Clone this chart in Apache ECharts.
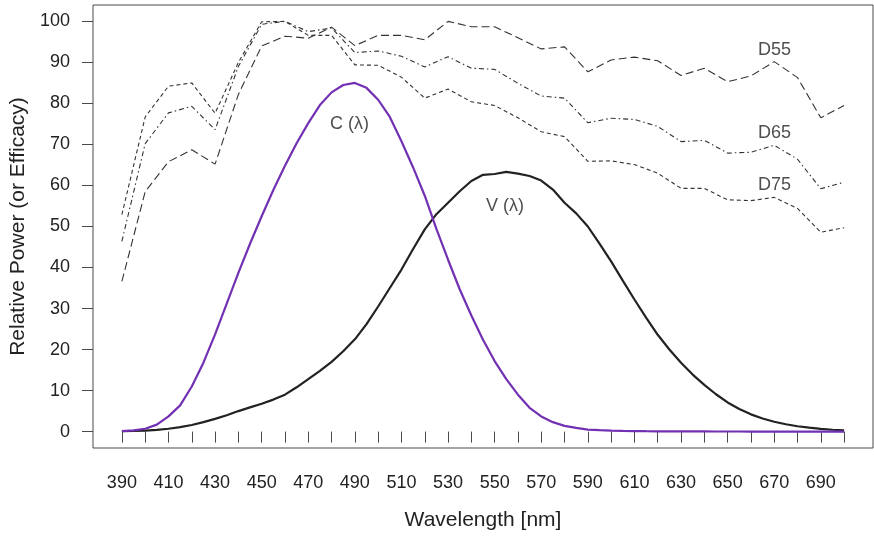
<!DOCTYPE html>
<html>
<head>
<meta charset="utf-8">
<script src="https://cdn.jsdelivr.net/npm/echarts@6/dist/echarts.min.js"></script>
<style>
html,body{margin:0;padding:0;background:#fff;}
#chart{width:874px;height:536px;}
</style>
</head>
<body>
<div id="chart"></div>
<script>
// ---- data ----
const wl10 = [390,400,410,420,430,440,450,460,470,480,490,500,510,520,530,540,550,560,570,580,590,600,610,620,630,640,650,660,670,680,690,700];
const D55 = [36.6,58.5,65.8,68.7,65.2,82.2,94.0,96.4,95.9,98.6,94.1,96.6,96.6,95.5,100.0,98.7,98.7,96.0,93.3,93.8,87.7,90.6,91.3,90.4,86.8,88.6,85.3,86.7,90.2,86.3,76.5,79.5];
const D65 = [46.4,70.2,77.7,79.3,73.6,89.0,99.3,100.0,97.5,98.4,92.4,92.8,91.5,88.9,91.4,88.6,88.3,84.9,81.8,81.3,75.3,76.4,76.1,74.4,70.7,71.0,67.9,68.1,69.8,66.4,59.2,60.8];
const D75 = [52.9,76.7,84.2,85.0,77.6,90.0,99.9,100.0,96.6,96.6,89.4,89.3,86.4,81.3,83.5,80.4,79.5,76.5,73.1,71.9,65.9,66.0,65.1,63.0,59.3,59.3,56.5,56.3,57.1,54.4,48.6,49.7];

const wl5 = [390,395,400,405,410,415,420,425,430,435,440,445,450,455,460,465,470,475,480,485,490,495,500,505,510,515,520,525,530,535,540,545,550,555,560,565,570,575,580,585,590,595,600,605,610,615,620,625,630,635,640,645,650,655,660,665,670,675,680,685,690,695,700];
const Cl = [0.1,0.3,0.7,1.7,3.7,6.4,11.0,16.8,23.7,31.2,38.7,45.8,52.5,58.9,64.8,70.3,75.2,79.6,82.7,84.5,85.0,83.8,80.9,76.7,70.8,64.4,57.5,49.4,41.9,34.7,28.3,22.4,17.2,12.8,9.0,5.8,3.7,2.3,1.4,0.9,0.5,0.35,0.25,0.18,0.12,0.09,0.07,0.05,0.04,0.03,0.03,0.02,0.02,0.02,0.01,0.01,0.01,0.01,0.01,0.01,0,0,0];
const Vl = [0.1,0.15,0.25,0.4,0.7,1.1,1.6,2.3,3.1,4.0,5.0,5.9,6.8,7.8,9.0,10.8,12.8,14.8,17.0,19.6,22.5,26.2,30.5,35.0,39.5,44.5,49.3,53.0,55.8,58.6,61.1,62.6,62.8,63.3,62.9,62.3,61.2,59.0,55.8,53.2,50.0,45.8,41.5,36.8,32.2,27.8,23.6,20.0,16.8,13.9,11.4,9.1,7.1,5.5,4.2,3.2,2.4,1.8,1.3,0.95,0.65,0.45,0.3];

const xTicks = {min:390, max:700, step:10, labelStep:20};
const yTicks = {min:0, max:100, step:10};

const annText = ['C (λ)','V (λ)','D55','D65','D75'];
const annX = [487.7,554.4,670.1,670.1,670.1];
const annY = [75.1,54.9,92.9,72.7,60.0];

// ---- layout ----
const W = 874, H = 536;
const frame = {left:93, right:1, top:5, bottom:88};
const xr = (xTicks.max - xTicks.min) * 0.04, yr = (yTicks.max - yTicks.min) * 0.04;
const xMin = xTicks.min - xr, xMax = xTicks.max + xr;
const yMin = yTicks.min - yr, yMax = yTicks.max + yr;
const pw = W - frame.left - frame.right, ph = H - frame.top - frame.bottom;
const pxX = pw / (xMax - xMin), pxY = ph / (yMax - yMin);
const g2 = {
  left: frame.left + xr * pxX,
  right: frame.right + xr * pxX,
  top: frame.top + yr * pxY,
  bottom: frame.bottom + yr * pxY
};

const FONT = 'Liberation Sans, Arial, Helvetica, sans-serif';
const INK = '#222';
const LINE = '#4a4a4a';

function pairs(xs, ys){ return xs.map((x,i)=>[x, ys[i]]); }

const chart = echarts.init(document.getElementById('chart'), null, {renderer:'canvas'});
chart.setOption({
  animation:false,
  backgroundColor:'#fff',
  textStyle:{fontFamily:FONT},
  grid:[
    Object.assign({show:true, borderColor:LINE, borderWidth:1, backgroundColor:'transparent'}, frame),
    Object.assign({show:false}, g2)
  ],
  xAxis:[
    {gridIndex:0, type:'value', min:xMin, max:xMax, show:false},
    {gridIndex:1, type:'value', min:xTicks.min, max:xTicks.max, interval:xTicks.step,
     position:'bottom', offset: yr*pxY,
     axisLine:{show:false},
     axisTick:{show:true, inside:false, length:11, lineStyle:{color:LINE, width:1}},
     splitLine:{show:false},
     axisLabel:{show:true, margin:26, fontSize:18, color:INK, fontFamily:FONT,
       showMinLabel:true, showMaxLabel:true, hideOverlap:false,
       formatter:v => (Math.round(v - xTicks.min) % xTicks.labelStep === 0 ? String(v) : '')},
     name:'Wavelength [nm]', nameLocation:'middle', nameGap:62,
     nameTextStyle:{fontSize:21, color:INK, fontFamily:FONT}}
  ],
  yAxis:[
    {gridIndex:0, type:'value', min:yMin, max:yMax, show:false},
    {gridIndex:1, type:'value', min:yTicks.min, max:yTicks.max, interval:yTicks.step,
     position:'left', offset: xr*pxX,
     axisLine:{show:false},
     axisTick:{show:true, inside:false, length:11, lineStyle:{color:LINE, width:1}},
     splitLine:{show:false},
     axisLabel:{show:true, margin:23, fontSize:18, color:INK, fontFamily:FONT},
     name:'Relative Power (or Efficacy)', nameLocation:'middle', nameGap:60,
     nameTextStyle:{fontSize:21, color:INK, fontFamily:FONT}}
  ],
  series:[
    {name:'D55', type:'line', xAxisIndex:0, yAxisIndex:0, data:pairs(wl10, D55), showSymbol:false, silent:true,
     lineStyle:{color:'#333', width:1.1, type:[8,4]}},
    {name:'D65', type:'line', xAxisIndex:0, yAxisIndex:0, data:pairs(wl10, D65), showSymbol:false, silent:true,
     lineStyle:{color:'#333', width:1.1, type:[5,3,1.5,3]}},
    {name:'D75', type:'line', xAxisIndex:0, yAxisIndex:0, data:pairs(wl10, D75), showSymbol:false, silent:true,
     lineStyle:{color:'#333', width:1.1, type:[4,3]}},
    {name:'V', type:'line', xAxisIndex:0, yAxisIndex:0, data:pairs(wl5, Vl), showSymbol:false, silent:true,
     lineStyle:{color:'#222', width:2.2}},
    {name:'C', type:'line', xAxisIndex:0, yAxisIndex:0, data:pairs(wl5, Cl), showSymbol:false, silent:true, z:3,
     lineStyle:{color:'#7230b2', width:2.2}},
    {name:'labels', type:'scatter', xAxisIndex:0, yAxisIndex:0, symbolSize:0, silent:true, z:5,
     data: annText.map((t,i)=>({name:t, value:[annX[i], annY[i]]})),
     label:{show:true, position:'inside', formatter:p=>p.name, fontSize:18, color:INK, fontFamily:FONT}}
  ]
});
</script>
</body>
</html>
